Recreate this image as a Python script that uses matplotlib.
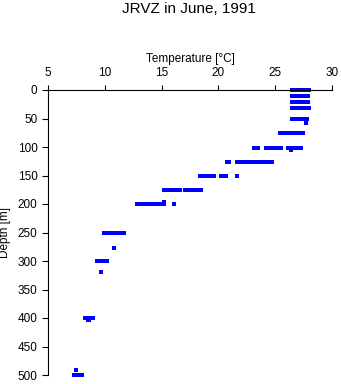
import matplotlib
matplotlib.use("Agg")
import matplotlib.pyplot as plt

plt.rcParams['font.family'] = ['Liberation Sans', 'DejaVu Sans']

title = "JRVZ in June, 1991"
xlabel = "Temperature [°C]"
ylabel = "Depth [m]"
xticks = [5, 10, 15, 20, 25, 30]
yticks = [0, 50, 100, 150, 200, 250, 300, 350, 400, 450, 500]

# (depth, temperatures observed at that depth)
d0 = [26.5, 26.65, 26.8, 26.95, 27.1, 27.25, 27.4, 27.5, 27.65, 27.8, 27.95]
d10 = [26.5, 26.65, 26.8, 26.95, 27.1, 27.25, 27.4, 27.55, 27.7, 27.85, 27.9]
d21 = [26.5, 26.65, 26.8, 26.95, 27.1, 27.25, 27.4, 27.55, 27.7, 27.85]
d32 = [26.5, 26.65, 26.8, 26.95, 27.1, 27.25, 27.4, 27.55, 27.7, 27.85, 27.95]
d51 = [26.5, 26.65, 26.8, 26.95, 27.1, 27.25, 27.4, 27.55, 27.7, 27.8]
d58 = [27.7]
d76 = [25.4, 25.55, 25.7, 25.85, 26.0, 26.15, 26.3, 26.45, 26.6, 26.75, 26.9,
       27.05, 27.2, 27.35, 27.45]
d101 = [23.15, 23.3, 23.45, 24.2, 24.35, 24.5, 24.65, 24.8, 24.95, 25.25, 25.4,
        25.55, 26.1, 26.25, 26.4, 26.55, 26.7, 26.85, 27.0, 27.15, 27.3]
d106 = [26.4]
d126 = [20.75, 20.95, 21.65, 21.8, 21.95, 22.1, 22.25, 22.4, 22.55, 22.85, 23.0,
        23.15, 23.3, 23.45, 23.6, 23.75, 23.9, 24.25, 24.4, 24.55, 24.7]
d151 = [18.35, 18.5, 18.65, 18.8, 19.15, 19.3, 19.45, 19.6, 20.25, 20.4, 20.55,
        20.7, 21.6]
d175 = [15.25, 15.45, 15.75, 15.9, 16.05, 16.2, 16.35, 16.5, 16.65, 17.05, 17.2,
        17.35, 17.5, 17.6, 17.85, 18.0, 18.15, 18.3, 18.45]
d197 = [15.25]
d200 = [12.85, 13.0, 13.15, 13.3, 13.45, 13.6, 13.75, 13.9, 14.05, 14.2, 14.35,
        14.5, 14.65, 14.8, 14.95, 15.1, 15.25, 16.1]
d250 = [9.9, 10.05, 10.25, 10.6, 10.75, 10.9, 11.05, 11.2, 11.35, 11.5, 11.7]
d278 = [10.8]
d300 = [9.3, 9.45, 9.6, 9.75, 9.9, 10.05, 10.2]
d320 = [9.65]
d400 = [8.25, 8.4, 8.55, 8.7, 8.85, 9.0]
d403 = [8.55, 8.65]
d492 = [7.45]
d500 = [7.25, 7.4, 7.55, 7.7, 7.85, 8.0]

levels = [(0, d0), (10, d10), (21, d21), (32, d32), (51, d51), (58, d58),
          (76, d76), (101, d101), (106, d106), (126, d126), (151, d151),
          (175, d175), (197, d197), (200, d200), (250, d250), (278, d278),
          (300, d300), (320, d320), (400, d400), (403, d403), (492, d492),
          (500, d500)]

temps = []
depths = []
for dep, tl in levels:
    for t in tl:
        temps.append(t)
        depths.append(dep)

W, H = 341, 384
fig = plt.figure(figsize=(W / 100, H / 100), dpi=100)
ax = fig.add_axes([48 / W, 1 - 375 / H, 284 / W, 285 / H])

ax.plot(temps, depths, linestyle='none', marker='s', markersize=2.6,
        markeredgewidth=0, color='#0000ff', clip_on=False)

ax.set_xlim(5, 30)
ax.set_ylim(500, 0)
ax.set_xticks(xticks)
ax.set_yticks(yticks)
ax.xaxis.tick_top()
ax.xaxis.set_label_position('top')
for s in ['right', 'bottom']:
    ax.spines[s].set_visible(False)
for s in ['top', 'left']:
    ax.spines[s].set_linewidth(0.8)
ax.tick_params(axis='x', which='both', length=3.6, width=0.8, pad=4,
               labelsize=8.5, top=True, bottom=False)
ax.tick_params(axis='y', which='both', length=4, width=0.8, pad=3.5,
               labelsize=8.5)
ax.set_xlabel(xlabel, fontsize=8.5, labelpad=4)
ax.set_ylabel(ylabel, fontsize=8.5, labelpad=5)

fig.text(189 / W, 1 - 9 / H, title, ha='center', va='center', fontsize=11)

fig.savefig("out.png", dpi=100)
